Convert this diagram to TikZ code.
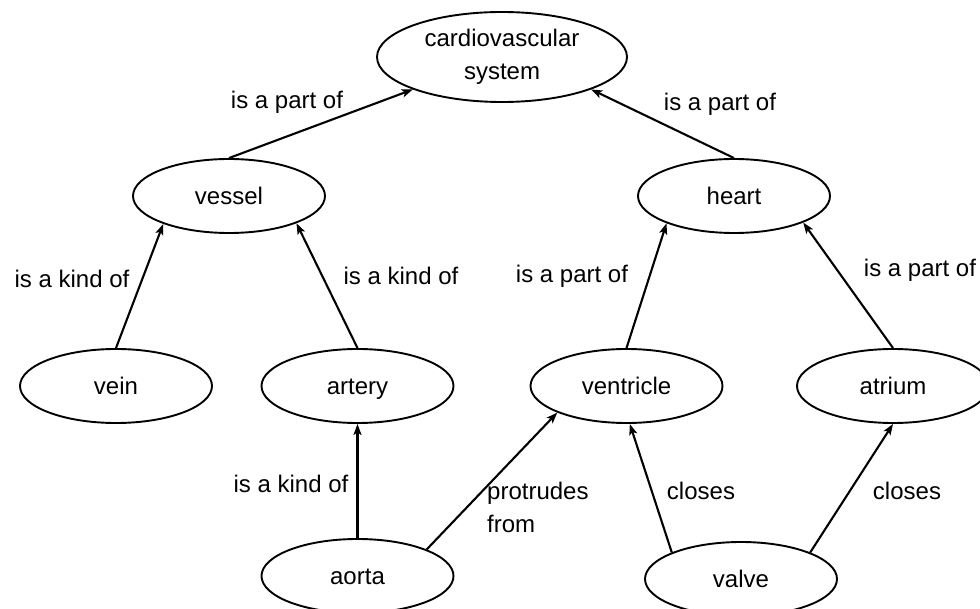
\documentclass[tikz,border=0pt]{standalone}
\usepackage{fontspec}
\setmainfont{Liberation Sans}
\usetikzlibrary{arrows.meta,shapes.geometric}
\begin{document}
\begin{tikzpicture}[x=1pt,y=-1pt,
  font=\fontsize{24}{33}\selectfont,
  concept/.style={draw, ellipse, line width=1.9pt, minimum width=192pt,
    minimum height=74pt, inner sep=0pt, text height=17pt, text depth=0pt},
  rel/.style={line width=2.1pt, -{Stealth[length=11pt,width=8pt,inset=2.5pt]}},
  lbl/.style={anchor=base, inner sep=0pt}]
  \fill[white] (0,0) rectangle (980,609);
  \useasboundingbox (0,0) rectangle (980,609);

  % concepts
  \node[concept, minimum width=250pt, minimum height=90pt, align=center,
        text height=, text depth=] (cvs) at (502,57) {cardiovascular\\system};
  \node[concept] (vessel)    at (229,196)   {vessel};
  \node[concept] (heart)     at (734,196)   {heart};
  \node[concept] (vein)      at (116,386)   {vein};
  \node[concept] (artery)    at (357.5,386) {artery};
  \node[concept] (ventricle) at (626.5,386) {ventricle};
  \node[concept] (atrium)    at (893,386)   {atrium};
  \node[concept] (aorta)     at (357.5,576) {aorta};
  \node[concept] (valve)     at (741,579)   {valve};

  % relations
  \draw[rel] (vessel.north) -- (cvs.200);
  \draw[rel] (heart.north) -- (cvs.-20);
  \draw[rel] (vein.north) -- (vessel.203);
  \draw[rel] (artery.north) -- (vessel.-22);
  \draw[rel] (ventricle.north) -- (heart.202);
  \draw[rel] (atrium.north) -- (heart.-21);
  \draw[rel] (aorta.north) -- (artery.south);
  \draw[rel] (aorta.21) -- (ventricle.201);
  \draw[rel] (valve.159) -- (ventricle.-85);
  \draw[rel] (valve.21) -- (atrium.south);

  % relation labels
  \node[lbl] (l1) at (287,109) {is a part of};
  \node[lbl] (l2) at (720,111) {is a part of};
  \node[lbl] (l3) at (72,288)  {is a kind of};
  \node[lbl] (l4) at (401,285) {is a kind of};
  \node[lbl] (l5) at (572,283) {is a part of};
  \node[lbl] (l6) at (920,277) {is a part of};
  \node[lbl] (l7) at (291,492) {is a kind of};
  \node[anchor=north west, inner sep=0pt, align=left] (l8) at (487,481.5) {protrudes\\from};
  \node[lbl] (l9) at (701,499) {closes};
  \node[lbl] (l10) at (907,499) {closes};
\end{tikzpicture}
\end{document}
